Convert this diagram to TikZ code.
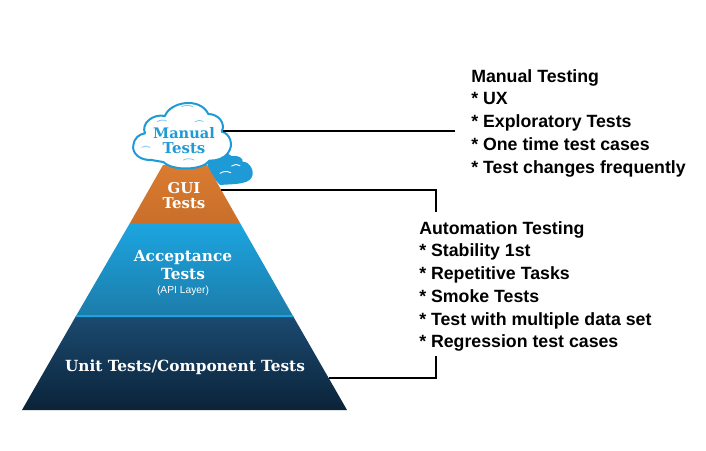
\documentclass[tikz,border=0pt]{standalone}
\usepackage{fontspec}
\setmainfont{Liberation Sans Bold}
\newfontfamily\slab{DejaVu Serif Bold}
\newfontfamily\plainsans{Liberation Sans}
\definecolor{cblue}{HTML}{1E9AD6}
\definecolor{orgA}{HTML}{DA7B30}
\definecolor{orgB}{HTML}{C96F2A}
\definecolor{accA}{HTML}{1CA5E0}
\definecolor{accB}{HTML}{1C7CAA}
\definecolor{unitA}{HTML}{1B4A70}
\definecolor{unitB}{HTML}{0B2339}
\tikzset{
  px/.style={x=0.75pt,y=-0.75pt},
  slabw/.style={text=white,font=\slab\fontsize{#1}{#1}\selectfont,inner sep=0pt,align=center},
  slabb/.style={text=cblue,font=\slab\fontsize{#1}{#1}\selectfont,inner sep=0pt,align=center},
  notes/.style={anchor=north west,inner sep=0pt,align=left,font=\fontsize{13.3}{17.05}\selectfont},
  connector/.style={draw=black,line width=1.5pt,line cap=butt,line join=miter},
  highlight/.style={draw=white,line width=0.7pt,line cap=round},
  hlcloud/.style={draw=cblue!55,line width=0.6pt,line cap=round}
}
\begin{document}
\begin{tikzpicture}[px]
\useasboundingbox (0,0) rectangle (706,450);
\fill[white] (0,0) rectangle (706,450);
% small cloud
\begin{scope}[shift={(120,90)},x=0.25pt,y=-0.25pt]
\fill[cblue] (262,225) .. controls (270,195) and (315,180) .. (335,198)
 .. controls (355,195) and (370,205) .. (368,215)
 .. controls (390,215) and (405,245) .. (395,262)
 .. controls (385,285) and (330,282) .. (300,285)
 .. controls (285,270) and (270,250) .. (262,225) -- cycle;
\draw[highlight] (300,250) .. controls (310,243) and (322,243) .. (332,248);
\draw[highlight] (335,228) .. controls (343,222) and (352,222) .. (360,227);
\end{scope}
% pyramid
\shade[top color=orgA,bottom color=orgB] (163,165) -- (207,165) -- (240,223) -- (130,223) -- cycle;
\shade[top color=accA,bottom color=accB] (130,223) -- (240,223) -- (293,316) -- (76,316) -- cycle;
\shade[top color=unitA,bottom color=unitB] (76,316) -- (293,316) -- (347,410) -- (22,410) -- cycle;
\fill[accA] (76.5,315) -- (292.5,315) -- (293.7,317) -- (75.3,317) -- cycle;
% manual cloud
\begin{scope}[shift={(120,90)},x=0.25pt,y=-0.25pt]
\draw[cblue,fill=white,line width=1.5pt,line join=round]
 (95,210) .. controls (60,212) and (35,190) .. (40,165)
 .. controls (42,145) and (58,132) .. (75,130)
 .. controls (62,100) and (100,70) .. (135,78)
 .. controls (150,35) and (240,20) .. (265,72)
 .. controls (295,72) and (318,100) .. (305,125)
 .. controls (330,130) and (342,165) .. (325,187)
 .. controls (312,207) and (290,212) .. (268,212)
 .. controls (250,240) and (160,245) .. (130,216)
 .. controls (118,214) and (105,212) .. (95,210) -- cycle;
\draw[hlcloud] (185,50) .. controls (195,45) and (208,45) .. (218,50);
\draw[hlcloud] (112,95) .. controls (120,89) and (132,89) .. (140,93);
\draw[hlcloud] (225,95) .. controls (232,90) and (242,90) .. (250,94);
\draw[hlcloud] (65,172) .. controls (72,167) and (82,167) .. (90,172);
\draw[hlcloud] (190,210) .. controls (198,205) and (212,205) .. (222,210);
\end{scope}
% labels
\node[slabb=10.9] (manual) at (184,133) {Manual};
\node[slabb=11.2] (manualb) at (184,148) {Tests};
\node[slabw=11.2] (gui) at (184,188) {GUI};
\node[slabw=11.2] (guib) at (184,203) {Tests};
\node[slabw=11.5] (acc) at (183,258) {Acceptance};
\node[slabw=11.5] (accb) at (183,274) {Tests};
\node[text=white,font=\plainsans\fontsize{7.7}{8}\selectfont,inner sep=0pt] (api) at (183,291) {(API Layer)};
\node[slabw=11.5] (unit) at (185,367) {Unit Tests/Component Tests};
% notes
\node[notes] (mnotes) at (471,69) {Manual Testing\\* UX\\* Exploratory Tests\\* One time test cases\\* Test changes frequently};
\node[notes] (anotes) at (419,221) {Automation Testing\\* Stability 1st\\* Repetitive Tasks\\* Smoke Tests\\* Test with multiple data set\\* Regression test cases};
% connectors
\coordinate (mcloud) at (223,131);
\coordinate (mend) at (455,131);
\coordinate (gstart) at (221,190);
\coordinate (gcorner) at (436,190);
\coordinate (gend) at (436,212);
\coordinate (ustart) at (329,378);
\coordinate (ucorner) at (436,378);
\coordinate (uend) at (436,356);
\draw[connector] (mcloud) -- (mend);
\draw[connector] (gstart) -- (gcorner) -- (gend);
\draw[connector] (ustart) -- (ucorner) -- (uend);
\end{tikzpicture}
\end{document}
